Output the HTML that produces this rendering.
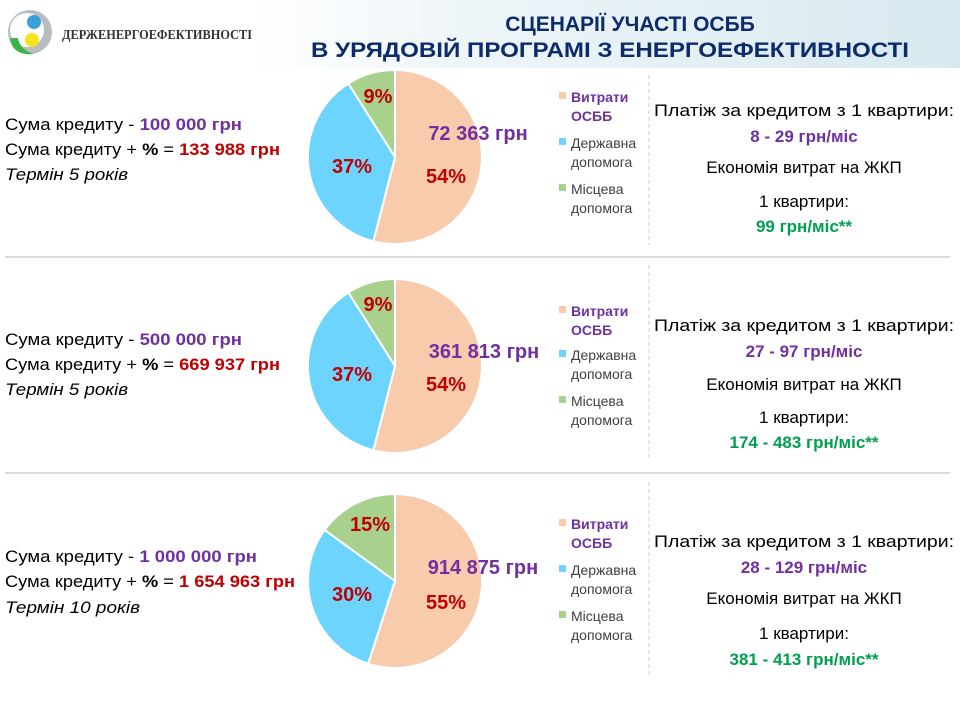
<!DOCTYPE html>
<html><head><meta charset="utf-8"><style>
html,body{margin:0;padding:0;background:#fff}
svg{display:block}
text{font-family:"Liberation Sans","DejaVu Sans",sans-serif}
</style></head><body>
<svg width="960" height="720" viewBox="0 0 960 720" xmlns="http://www.w3.org/2000/svg">
<defs>
<linearGradient id="tg" x1="0" y1="0" x2="1" y2="0">
<stop offset="0" stop-color="#fff"/><stop offset="0.3" stop-color="#eef5f8"/><stop offset="1" stop-color="#d8e9f0"/>
</linearGradient>
</defs>
<rect x="250" y="0" width="710" height="68" fill="url(#tg)"/>
<!-- logo -->
<circle cx="30" cy="32" r="22" fill="#b9bdc2"/>
<circle cx="27" cy="30" r="17" fill="#fff"/>
<path d="M10 38 Q12 56 34 54 Q20 50 18 38 Z" fill="#3bb54a"/>
<circle cx="34" cy="22" r="7" fill="#3aa0d8"/>
<circle cx="32" cy="40" r="7" fill="#f5e31e"/>
<text x="62" y="39" font-size="14" font-weight="bold" fill="#333" style="font-family:'Liberation Serif',serif" textLength="190" lengthAdjust="spacingAndGlyphs">ДЕРЖЕНЕРГОЕФЕКТИВНОСТІ</text>
<text x="630" y="31" text-anchor="middle" font-size="21" font-weight="bold" fill="#0c2b6b">СЦЕНАРІЇ УЧАСТІ ОСББ</text>
<text x="610" y="57" text-anchor="middle" font-size="21" font-weight="bold" fill="#0c2b6b" textLength="598" lengthAdjust="spacingAndGlyphs">В УРЯДОВІЙ ПРОГРАМІ З ЕНЕРГОЕФЕКТИВНОСТІ</text>

<line x1="5" y1="257" x2="950" y2="257" stroke="#d0d0d0" stroke-width="1.5"/>
<line x1="5" y1="473" x2="950" y2="473" stroke="#d0d0d0" stroke-width="1.5"/>
<line x1="649" y1="75" x2="649" y2="245" stroke="#ccc" stroke-dasharray="4,3"/>
<line x1="649" y1="265" x2="649" y2="460" stroke="#ccc" stroke-dasharray="4,3"/>
<line x1="649" y1="482" x2="649" y2="678" stroke="#ccc" stroke-dasharray="4,3"/>

<g font-size="17">
<text x="5" y="130" textLength="237" lengthAdjust="spacingAndGlyphs">Сума кредиту - <tspan fill="#7030a0" font-weight="bold">100 000 грн</tspan></text>
<text x="5" y="155" textLength="275" lengthAdjust="spacingAndGlyphs">Сума кредиту + <tspan font-weight="bold">%</tspan> = <tspan fill="#c00000" font-weight="bold">133 988 грн</tspan></text>
<text x="5" y="180" font-style="italic" textLength="123" lengthAdjust="spacingAndGlyphs">Термін 5 років</text>
<text x="5" y="345" textLength="237" lengthAdjust="spacingAndGlyphs">Сума кредиту - <tspan fill="#7030a0" font-weight="bold">500 000 грн</tspan></text>
<text x="5" y="370" textLength="275" lengthAdjust="spacingAndGlyphs">Сума кредиту + <tspan font-weight="bold">%</tspan> = <tspan fill="#c00000" font-weight="bold">669 937 грн</tspan></text>
<text x="5" y="395" font-style="italic" textLength="123" lengthAdjust="spacingAndGlyphs">Термін 5 років</text>
<text x="5" y="562" textLength="252" lengthAdjust="spacingAndGlyphs">Сума кредиту - <tspan fill="#7030a0" font-weight="bold">1 000 000 грн</tspan></text>
<text x="5" y="587" textLength="290" lengthAdjust="spacingAndGlyphs">Сума кредиту + <tspan font-weight="bold">%</tspan> = <tspan fill="#c00000" font-weight="bold">1 654 963 грн</tspan></text>
<text x="5" y="613" font-style="italic" textLength="135" lengthAdjust="spacingAndGlyphs">Термін 10 років</text>
</g>

<g font-size="17" text-anchor="middle">
<text x="804" y="116" textLength="300" lengthAdjust="spacingAndGlyphs">Платіж за кредитом з 1 квартири:</text>
<text x="804" y="142" fill="#7030a0" font-weight="bold">8 - 29 грн/міс</text>
<text x="804" y="173">Економія витрат на ЖКП</text>
<text x="804" y="207">1 квартири:</text>
<text x="804" y="232" fill="#00a050" font-weight="bold">99 грн/міс**</text>

<text x="804" y="331" textLength="300" lengthAdjust="spacingAndGlyphs">Платіж за кредитом з 1 квартири:</text>
<text x="804" y="357" fill="#7030a0" font-weight="bold">27 - 97 грн/міс</text>
<text x="804" y="390">Економія витрат на ЖКП</text>
<text x="804" y="423">1 квартири:</text>
<text x="804" y="448" fill="#00a050" font-weight="bold">174 - 483 грн/міс**</text>

<text x="804" y="547" textLength="300" lengthAdjust="spacingAndGlyphs">Платіж за кредитом з 1 квартири:</text>
<text x="804" y="573" fill="#7030a0" font-weight="bold">28 - 129 грн/міс</text>
<text x="804" y="604">Економія витрат на ЖКП</text>
<text x="804" y="639">1 квартири:</text>
<text x="804" y="665" fill="#00a050" font-weight="bold">381 - 413 грн/міс**</text>
</g>

<g stroke="#fff" stroke-width="2">
<path d="M395 157 L395 70 A87 87 0 1 1 373.4 241.3 Z" fill="#f8cbad"/>
<path d="M395 157 L373.4 241.3 A87 87 0 0 1 348.4 83.5 Z" fill="#6dd5fd"/>
<path d="M395 157 L348.4 83.5 A87 87 0 0 1 395 70 Z" fill="#a9d18e"/>
</g>
<g stroke="#fff" stroke-width="2">
<path d="M395 366 L395 279 A87 87 0 1 1 373.4 450.3 Z" fill="#f8cbad"/>
<path d="M395 366 L373.4 450.3 A87 87 0 0 1 348.4 292.5 Z" fill="#6dd5fd"/>
<path d="M395 366 L348.4 292.5 A87 87 0 0 1 395 279 Z" fill="#a9d18e"/>
</g>
<g stroke="#fff" stroke-width="2">
<path d="M395 581 L395 494 A87 87 0 1 1 368.1 663.7 Z" fill="#f8cbad"/>
<path d="M395 581 L368.1 663.7 A87 87 0 0 1 324.6 529.9 Z" fill="#6dd5fd"/>
<path d="M395 581 L324.6 529.9 A87 87 0 0 1 395 494 Z" fill="#a9d18e"/>
</g>

<g font-size="20" font-weight="bold" text-anchor="middle">
<text x="478" y="140" fill="#7030a0">72 363 грн</text>
<text x="446" y="183" fill="#c00000">54%</text>
<text x="352" y="173" fill="#c00000">37%</text>
<text x="378" y="103" fill="#c00000">9%</text>
<text x="484" y="358" fill="#7030a0">361 813 грн</text>
<text x="446" y="391" fill="#c00000">54%</text>
<text x="352" y="381" fill="#c00000">37%</text>
<text x="378" y="311" fill="#c00000">9%</text>
<text x="483" y="574" fill="#7030a0">914 875 грн</text>
<text x="446" y="609" fill="#c00000">55%</text>
<text x="352" y="601" fill="#c00000">30%</text>
<text x="370" y="531" fill="#c00000">15%</text>
</g>

<g font-size="14">
<rect x="559" y="92" width="7" height="7" fill="#f8cbad"/>
<text x="571" y="102" fill="#7030a0" font-weight="bold">Витрати</text>
<text x="571" y="121" fill="#7030a0" font-weight="bold">ОСББ</text>
<rect x="559" y="138" width="7" height="7" fill="#6dd5fd"/>
<text x="571" y="148" fill="#404040">Державна</text>
<text x="571" y="167" fill="#404040">допомога</text>
<rect x="559" y="184" width="7" height="7" fill="#a9d18e"/>
<text x="571" y="194" fill="#404040">Місцева</text>
<text x="571" y="213" fill="#404040">допомога</text>

<rect x="559" y="306" width="7" height="7" fill="#f8cbad"/>
<text x="571" y="316" fill="#7030a0" font-weight="bold">Витрати</text>
<text x="571" y="335" fill="#7030a0" font-weight="bold">ОСББ</text>
<rect x="559" y="350" width="7" height="7" fill="#6dd5fd"/>
<text x="571" y="360" fill="#404040">Державна</text>
<text x="571" y="379" fill="#404040">допомога</text>
<rect x="559" y="396" width="7" height="7" fill="#a9d18e"/>
<text x="571" y="406" fill="#404040">Місцева</text>
<text x="571" y="425" fill="#404040">допомога</text>

<rect x="559" y="519" width="7" height="7" fill="#f8cbad"/>
<text x="571" y="529" fill="#7030a0" font-weight="bold">Витрати</text>
<text x="571" y="548" fill="#7030a0" font-weight="bold">ОСББ</text>
<rect x="559" y="565" width="7" height="7" fill="#6dd5fd"/>
<text x="571" y="575" fill="#404040">Державна</text>
<text x="571" y="594" fill="#404040">допомога</text>
<rect x="559" y="611" width="7" height="7" fill="#a9d18e"/>
<text x="571" y="621" fill="#404040">Місцева</text>
<text x="571" y="640" fill="#404040">допомога</text>
</g>
</svg>
</body></html>
